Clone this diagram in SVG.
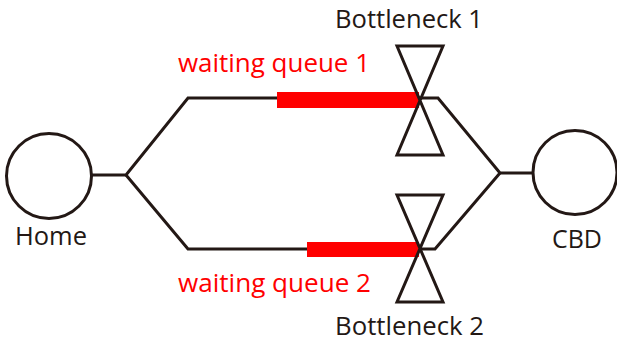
<svg xmlns="http://www.w3.org/2000/svg" width="617" height="342" viewBox="0 0 617 342">
  <style>
    .ln { fill: none; stroke: #231815; stroke-width: 3; stroke-linejoin: miter; }
    .nd { fill: #ffffff; stroke: #231815; stroke-width: 3; }
    .lbl { font-family: "Open Sans", "Noto Sans", sans-serif; font-size: 25px; fill: #231815; }
    .red { font-family: "Open Sans", "Noto Sans", sans-serif; font-size: 25px; fill: #ff0000; }
    .queue { fill: #ff0000; }
  </style>

  <!-- route lines -->
  <g id="connectors">
    <path class="ln" d="M92,175 H126 L188,98 H420 H438 L500,173 H534"/>
    <path class="ln" d="M126,175 L188,249 H420 H435 L500,173"/>
  </g>

  <!-- waiting queues -->
  <g id="queue1">
    <rect class="queue" x="277" y="92" width="142" height="16"/>
    <text class="red" x="178" y="72" textLength="192" lengthAdjust="spacingAndGlyphs">waiting queue 1</text>
  </g>
  <g id="queue2">
    <rect class="queue" x="307" y="242" width="112" height="15"/>
    <text class="red" x="178" y="292" textLength="193" lengthAdjust="spacingAndGlyphs">waiting queue 2</text>
  </g>

  <!-- bottlenecks (bow-tie valves) -->
  <g id="bottleneck1">
    <path class="ln" d="M397,46 H443 L397,155 H443 Z"/>
    <text class="lbl" x="335" y="28" textLength="148" lengthAdjust="spacingAndGlyphs">Bottleneck 1</text>
  </g>
  <g id="bottleneck2">
    <path class="ln" d="M397,195 H443 L397,302 H443 Z"/>
    <text class="lbl" x="335" y="335" textLength="149" lengthAdjust="spacingAndGlyphs">Bottleneck 2</text>
  </g>

  <!-- endpoints -->
  <g id="home">
    <circle class="nd" cx="49" cy="176" r="42.5"/>
    <text class="lbl" x="15" y="245" textLength="72" lengthAdjust="spacingAndGlyphs">Home</text>
  </g>
  <g id="cbd">
    <circle class="nd" cx="575" cy="172.5" r="42"/>
    <text class="lbl" x="552" y="248" textLength="50" lengthAdjust="spacingAndGlyphs">CBD</text>
  </g>
</svg>
